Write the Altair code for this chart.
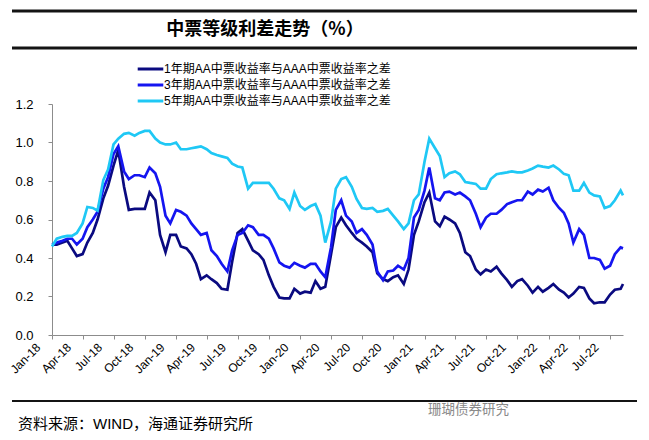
import altair as alt
import pandas as pd

# ---- data (semi-monthly readings, 2018-01 .. 2022-08) ----
dates = list(pd.date_range("2018-01-01", periods=111, freq="SMS").strftime("%Y-%m-%d")) + ["2022-08-08"]

y1 = [0.47, 0.47, 0.48, 0.49, 0.45, 0.41, 0.42, 0.48, 0.53, 0.60, 0.71, 0.775,
      0.88, 0.96, 0.77, 0.65, 0.655, 0.655, 0.655, 0.74, 0.70, 0.52, 0.43, 0.52,
      0.52, 0.46, 0.45, 0.42, 0.37, 0.29, 0.31, 0.29, 0.27, 0.24, 0.235, 0.38,
      0.53, 0.55, 0.49, 0.44, 0.42, 0.39, 0.31, 0.25, 0.195, 0.19, 0.19, 0.24,
      0.215, 0.225, 0.22, 0.28, 0.24, 0.25, 0.42, 0.56, 0.61, 0.57, 0.53, 0.50,
      0.48, 0.46, 0.43, 0.32, 0.29, 0.28, 0.30, 0.31, 0.265, 0.34, 0.52, 0.59,
      0.69, 0.74, 0.59, 0.565, 0.615, 0.60, 0.58, 0.53, 0.43, 0.41, 0.34, 0.315,
      0.34, 0.33, 0.355, 0.32, 0.285, 0.25, 0.28, 0.29, 0.256, 0.22, 0.25, 0.225,
      0.245, 0.265, 0.235, 0.22, 0.195, 0.215, 0.25, 0.245, 0.19, 0.165, 0.17, 0.17,
      0.21, 0.235, 0.24, 0.265]

y3 = [0.47, 0.48, 0.49, 0.50, 0.50, 0.47, 0.50, 0.56, 0.60, 0.64, 0.76, 0.82,
      0.94, 0.98, 0.85, 0.81, 0.83, 0.83, 0.82, 0.87, 0.84, 0.77, 0.62, 0.58,
      0.65, 0.64, 0.62, 0.58, 0.55, 0.52, 0.53, 0.44, 0.41, 0.37, 0.33, 0.44,
      0.52, 0.53, 0.57, 0.56, 0.52, 0.52, 0.50, 0.45, 0.377, 0.36, 0.35, 0.375,
      0.36, 0.35, 0.37, 0.37, 0.33, 0.30, 0.456, 0.65, 0.70, 0.62, 0.59, 0.53,
      0.55, 0.52, 0.47, 0.33, 0.285, 0.33, 0.335, 0.36, 0.34, 0.40, 0.61, 0.65,
      0.75, 0.87, 0.71, 0.70, 0.74, 0.745, 0.73, 0.74, 0.72, 0.70, 0.63, 0.56,
      0.61, 0.63, 0.63, 0.65, 0.68, 0.69, 0.70, 0.70, 0.745, 0.73, 0.755, 0.745,
      0.765, 0.70, 0.66, 0.635, 0.58, 0.48, 0.55, 0.52, 0.40, 0.40, 0.39, 0.345,
      0.36, 0.42, 0.455, 0.45]

y5 = [0.46, 0.50, 0.51, 0.515, 0.515, 0.53, 0.58, 0.665, 0.66, 0.646, 0.805, 0.86,
      0.99, 1.02, 1.045, 1.05, 1.035, 1.05, 1.06, 1.06, 1.02, 1.00, 0.99, 0.99,
      1.00, 0.965, 0.965, 0.97, 0.975, 0.98, 0.965, 0.945, 0.935, 0.928, 0.92, 0.89,
      0.875, 0.87, 0.76, 0.79, 0.79, 0.79, 0.79, 0.76, 0.71, 0.70, 0.655, 0.74,
      0.67, 0.65, 0.67, 0.68, 0.62, 0.48, 0.59, 0.76, 0.81, 0.82, 0.77, 0.707,
      0.66, 0.655, 0.66, 0.64, 0.645, 0.655, 0.62, 0.59, 0.55, 0.58, 0.70, 0.73,
      0.90, 1.02, 0.97, 0.93, 0.82, 0.84, 0.85, 0.835, 0.795, 0.79, 0.785, 0.76,
      0.76, 0.81, 0.835, 0.84, 0.845, 0.85, 0.845, 0.845, 0.855, 0.865, 0.88, 0.875,
      0.87, 0.88, 0.86, 0.837, 0.83, 0.75, 0.75, 0.79, 0.74, 0.725, 0.72, 0.66,
      0.67, 0.70, 0.75, 0.725]

series = ["1年期AA中票收益率与AAA中票收益率之差",
          "3年期AA中票收益率与AAA中票收益率之差",
          "5年期AA中票收益率与AAA中票收益率之差"]
colors = ["#0A0A80", "#1515F0", "#1FC8F5"]

title_text = "中票等级利差走势（%）"
source_text = "资料来源：WIND，海通证券研究所"
mark_text = "珊瑚债券研究"

rows = []
for name, vals in zip(series, [y1, y3, y5]):
    for d, v in zip(dates, vals):
        rows.append({"date": d, "value": v, "series": name})
df = pd.DataFrame(rows)

FONT = "Liberation Sans, Arial, Noto Sans CJK SC"

tick_dates = []
for yr in range(2018, 2023):
    for mo in (1, 4, 7, 10):
        if yr == 2022 and mo > 7:
            continue
        tick_dates.append(alt.DateTime(year=yr, month=mo, date=1, utc=True))

x_scale = alt.Scale(type="utc",
                    domain=[alt.DateTime(year=2018, month=1, date=1, utc=True),
                            alt.DateTime(year=2022, month=8, date=8, utc=True)])

lines = alt.Chart(df).mark_line(strokeWidth=2.7).encode(
    x=alt.X("date:T", scale=x_scale, title=None,
            axis=alt.Axis(values=tick_dates, format="%b-%y", labelAngle=-45,
                          labelAlign="right", labelBaseline="middle",
                          labelOffset=-14, labelPadding=6, labelFlush=False,
                          labelOverlap=False, labelBound=False,
                          tickSize=4, tickColor="#8c8c8c", domainColor="#8c8c8c",
                          labelFont=FONT, labelFontSize=12, labelColor="black",
                          grid=False)),
    y=alt.Y("value:Q", scale=alt.Scale(domain=[0, 1.2], nice=False), title=None,
            axis=alt.Axis(values=[0, 0.2, 0.4, 0.6, 0.8, 1.0, 1.2], format=".1f",
                          tickSize=4, tickColor="#8c8c8c", domainColor="#8c8c8c",
                          labelFont=FONT, labelFontSize=13, labelColor="black",
                          labelPadding=15, grid=False)),
    color=alt.Color("series:N", scale=alt.Scale(domain=series, range=colors), title=None,
                    legend=alt.Legend(orient="none", legendX=89, legendY=-44.5,
                                      symbolType="M-1.6,0H1.6", symbolSize=256,
                                      symbolStrokeWidth=3, labelFont=FONT,
                                      labelFontSize=12, labelColor="black",
                                      labelLimit=0, rowPadding=-1.5, labelOffset=4,
                                      padding=0)),
)

deco = pd.DataFrame({"t": [title_text]})
title = alt.Chart(deco).mark_text(font="Noto Sans CJK SC", fontSize=18, fontWeight="bold",
                                  color="black", align="center", baseline="middle").encode(
    x=alt.value(213), y=alt.value(-74), text="t:N")

rule_df = pd.DataFrame({"t": ["rule"]})

def hline(ypix, sw):
    return alt.Chart(rule_df).mark_rule(color="#141414", strokeWidth=sw).encode(
        x=alt.value(-40), x2=alt.value(585), y=alt.value(ypix))

rule_top = hline(-93, 3)
rule_mid = hline(-56, 3)
rule_bot = hline(297, 2)

src_df = pd.DataFrame({"t": [source_text]})
source = alt.Chart(src_df).mark_text(font=FONT, fontSize=15, color="black",
                                     align="left", baseline="middle").encode(
    x=alt.value(-34), y=alt.value(320), text="t:N")

wm_df = pd.DataFrame({"t": [mark_text]})
watermark = alt.Chart(wm_df).mark_text(font="Noto Sans CJK SC", fontSize=13.5, color="#8a8a8a",
                                       align="left", baseline="middle").encode(
    x=alt.value(376), y=alt.value(306), text="t:N")

chart = alt.layer(lines, rule_top, rule_mid, rule_bot, title, source, watermark).properties(
    width=571, height=231,
    padding={"left": 44, "top": 96, "right": 18, "bottom": 97},
    autosize=alt.AutoSizeParams(type="none"),
).configure_view(strokeOpacity=0)

chart.save("out.html", embed_options={"renderer": "svg", "actions": False})
